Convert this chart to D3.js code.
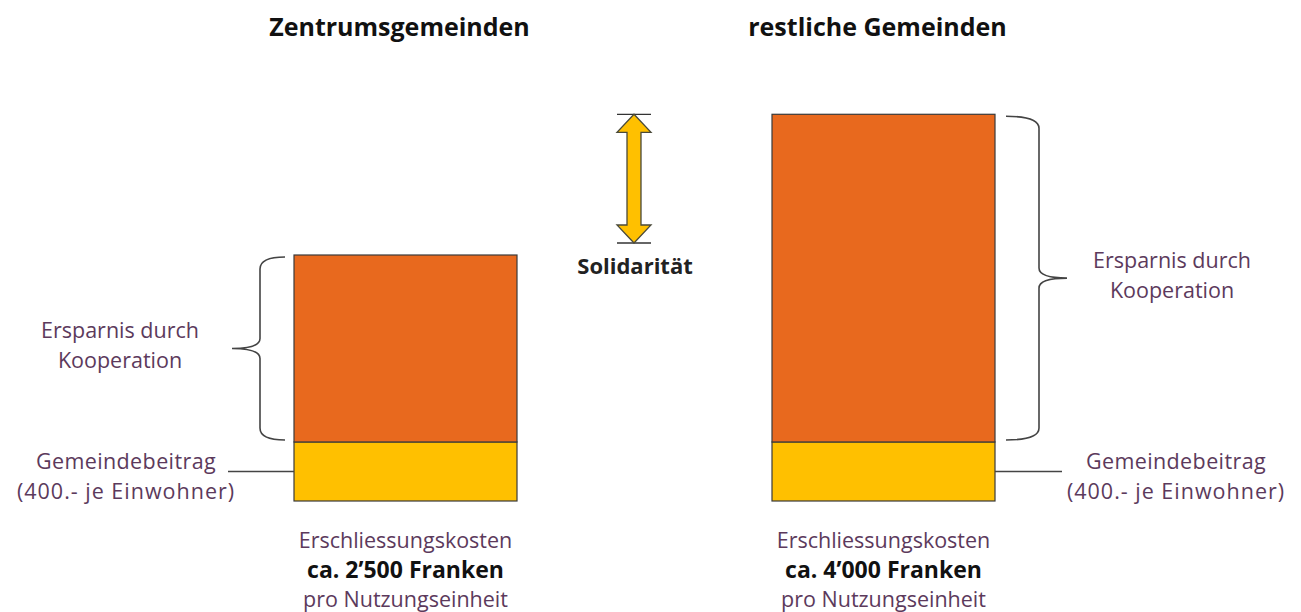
<!DOCTYPE html>
<html>
<head>
<meta charset="utf-8">
<script src="https://cdnjs.cloudflare.com/ajax/libs/d3/7.8.5/d3.min.js"></script>
<style>
  body { margin: 0; background: #fff; }
  text { font-family: "Open Sans", "DejaVu Sans", sans-serif; }
</style>
</head>
<body>
<div id="chart"></div>
<script>
// groups and stacked parts
var groups = ["Zentrumsgemeinden", "restliche Gemeinden"];
var gemeindebeitrag = [600, 600];
var ersparnis = [1900, 3330];
var kosten = ["ca. 2\u2019500 Franken", "ca. 4\u2019000 Franken"];
var partLabels = ["Ersparnis durch", "Kooperation"];
var baseLabels = ["Gemeindebeitrag", "(400.- je Einwohner)"];

var W = 1301, H = 612;
var svg = d3.select("#chart").append("svg").attr("width", W).attr("height", H);

var x = d3.scaleBand().domain(groups).range([294, 995]).paddingInner(255 / 478).paddingOuter(0);
var y = d3.scaleLinear().domain([0, 4000]).range([501, 107.4]);

var orange = "#E8691E", yellow = "#FFC000", txt = "#5c3a5c";

var totals = groups.map((g, i) => gemeindebeitrag[i] + ersparnis[i]);

// titles
svg.selectAll(".title").data(groups).enter().append("text")
  .attr("x", d => x(d) + x.bandwidth() / 2 - 6)
  .attr("y", 36)
  .attr("text-anchor", "middle")
  .attr("font-size", 25).attr("font-weight", "bold").attr("fill", "#111")
  .text(d => d);

// bars
groups.forEach(function(g, i) {
  svg.append("rect")
    .attr("x", x(g)).attr("width", x.bandwidth())
    .attr("y", y(gemeindebeitrag[i])).attr("height", y(0) - y(gemeindebeitrag[i]))
    .attr("fill", yellow).attr("stroke", "#3a3a3a").attr("stroke-width", 1.2);
  svg.append("rect")
    .attr("x", x(g)).attr("width", x.bandwidth())
    .attr("y", y(totals[i])).attr("height", y(gemeindebeitrag[i]) - y(totals[i]))
    .attr("fill", orange).attr("stroke", "#3a3a3a").attr("stroke-width", 1.2);

  // bottom labels
  var cx = x(g) + x.bandwidth() / 2;
  var t = svg.append("text").attr("text-anchor", "middle").attr("font-size", 21.5);
  t.append("tspan").attr("x", cx).attr("y", 548).attr("fill", txt).text("Erschliessungskosten");
  t.append("tspan").attr("x", cx).attr("y", 578).attr("fill", "#111").attr("font-weight", "bold").attr("font-size", 23).text(kosten[i]);
  t.append("tspan").attr("x", cx).attr("y", 607).attr("fill", txt).text("pro Nutzungseinheit");
});

// curly brace path, vertical, tip pointing to dir (-1 left, +1 right)
function brace(xv, y0, y1, dir, curl) {
  var ym = (y0 + y1) / 2, c = curl * -dir, tip = 28 * dir;
  return "M" + (xv + c) + "," + y0 +
    " Q" + xv + "," + y0 + " " + xv + "," + (y0 + 12) +
    " L" + xv + "," + (ym - 10) +
    " Q" + xv + "," + ym + " " + (xv + tip) + "," + ym +
    " Q" + xv + "," + ym + " " + xv + "," + (ym + 10) +
    " L" + xv + "," + (y1 - 12) +
    " Q" + xv + "," + y1 + " " + (xv + c) + "," + y1;
}

var braceX = [260, 1039], dirs = [-1, 1], curls = [25, 33];
var partCx = [120, 1172], baseCx = [126, 1176];
groups.forEach(function(g, i) {
  var y0 = y(totals[i]) + 2, y1 = y(gemeindebeitrag[i]) - 2;
  svg.append("path").attr("d", brace(braceX[i], y0, y1, dirs[i], curls[i]))
    .attr("fill", "none").attr("stroke", "#444").attr("stroke-width", 1.6);
  var ym = (y0 + y1) / 2;
  svg.selectAll(null).data(partLabels).enter().append("text")
    .attr("x", partCx[i]).attr("y", (d, k) => ym - 10 + k * 30)
    .attr("text-anchor", "middle").attr("font-size", 21.5).attr("fill", txt)
    .text(d => d);

  // Gemeindebeitrag labels + connector
  var yb = (y(gemeindebeitrag[i]) + y(0)) / 2;
  svg.selectAll(null).data(baseLabels).enter().append("text")
    .attr("x", baseCx[i]).attr("y", (d, k) => 469 + k * 30)
    .attr("text-anchor", "middle").attr("font-size", 21.5).attr("fill", txt)
    .attr("letter-spacing", (d, k) => k ? 1 : 0.4)
    .text(d => d);
  var lx = i === 0 ? [228, x(g)] : [x(g) + x.bandwidth(), 1062];
  svg.append("line").attr("x1", lx[0]).attr("x2", lx[1]).attr("y1", yb).attr("y2", yb)
    .attr("stroke", "#444").attr("stroke-width", 1.3);
});

// Solidarität arrow
var ax = 634, aTop = y(totals[1]), aBot = y(totals[0]) - 12;
svg.append("line").attr("x1", ax - 17).attr("x2", ax + 17).attr("y1", aTop).attr("y2", aTop).attr("stroke", "#333").attr("stroke-width", 1.3);
svg.append("line").attr("x1", ax - 17).attr("x2", ax + 17).attr("y1", aBot).attr("y2", aBot).attr("stroke", "#333").attr("stroke-width", 1.3);
var sw = 7, hw = 17, hl = 18;
var arrow = [
  [ax, aTop], [ax + hw, aTop + hl], [ax + sw, aTop + hl], [ax + sw, aBot - hl], [ax + hw, aBot - hl],
  [ax, aBot], [ax - hw, aBot - hl], [ax - sw, aBot - hl], [ax - sw, aTop + hl], [ax - hw, aTop + hl]
];
svg.append("path").attr("d", d3.line()(arrow) + "Z")
  .attr("fill", yellow).attr("stroke", "#4a4a3a").attr("stroke-width", 1.3);
svg.append("text").attr("x", ax + 1).attr("y", 274).attr("text-anchor", "middle")
  .attr("font-size", 22).attr("font-weight", "bold").attr("fill", "#222").text("Solidarität");
</script>
</body>
</html>
